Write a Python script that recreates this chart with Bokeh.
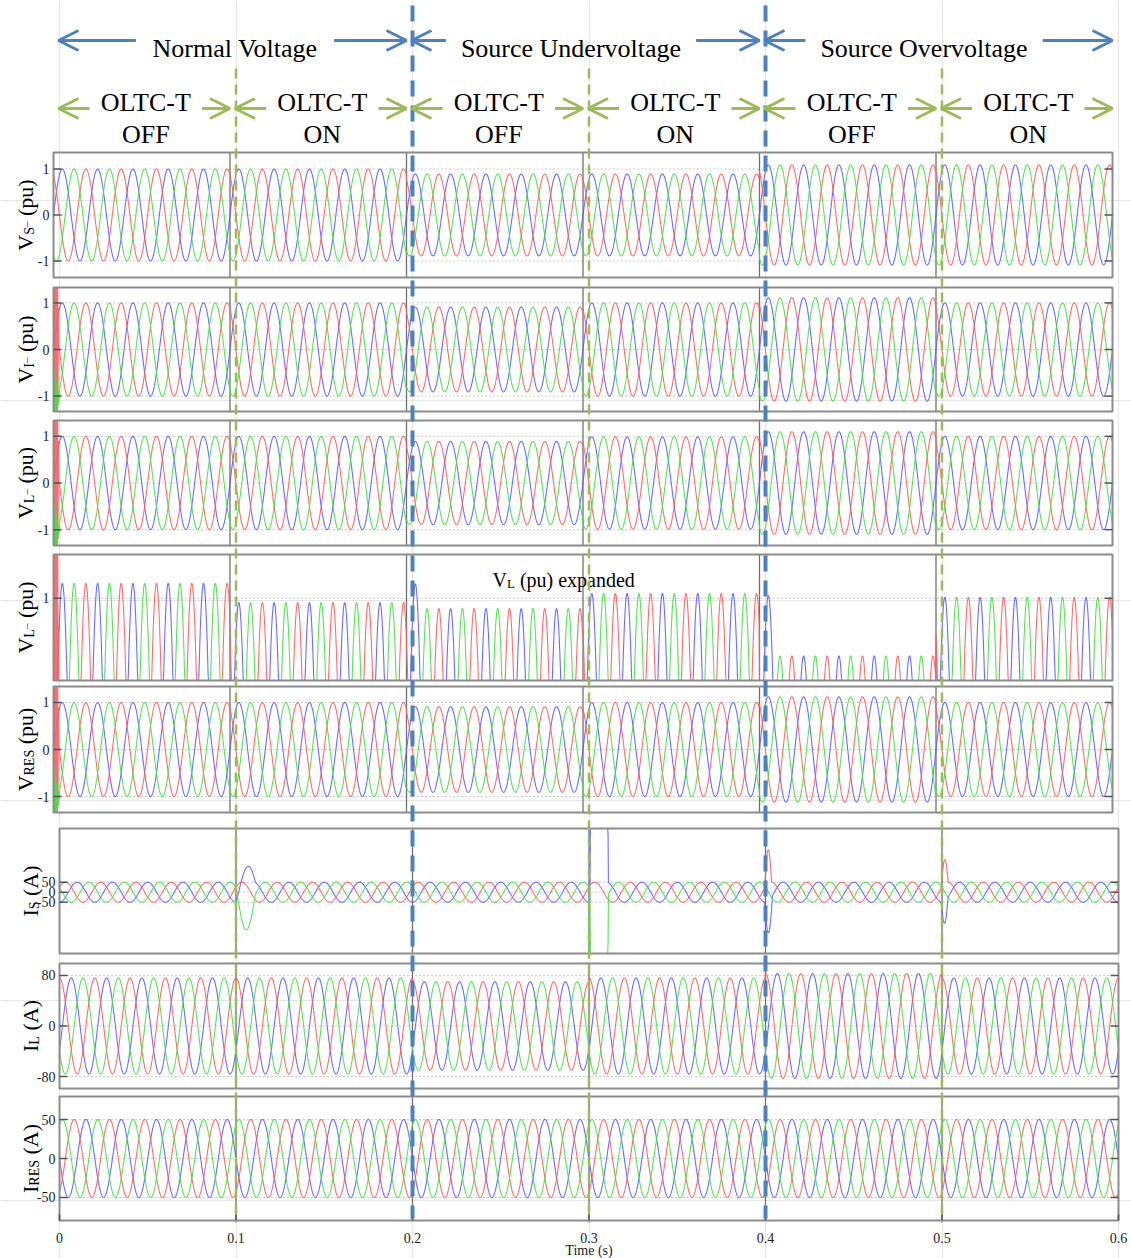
import numpy as np
from bokeh.plotting import figure
from bokeh.models import Range1d, Arrow, OpenHead
from bokeh.core.properties import value
from bokeh.embed import file_html
from bokeh.resources import INLINE

# ---------------- data ----------------
FREQ_HZ = 50.0
DT = 2e-4
segment_start = [0.0, 0.1, 0.2, 0.3, 0.4, 0.5]
segment_end = [0.1, 0.2, 0.3, 0.4, 0.5, 0.6]

# peak value of each trace in each 0.1 s interval
vs_amp = [1.0, 1.0, 0.89, 0.89, 1.09, 1.09]
vi_amp = [1.0, 1.0, 0.91, 1.0, 1.11, 1.0]
vl_amp = [1.0, 1.0, 0.89, 0.99, 1.10, 1.0]
vl_exp_amp = [1.055, 0.985, 0.963, 1.018, 0.79, 1.004]
vres_amp = [1.0, 1.0, 0.91, 1.0, 1.12, 1.0]
is_amp = [50, 50, 50, 50, 50, 50]
il_amp = [76, 76, 70, 76, 83, 76]
ires_amp = [50, 50, 50, 50, 50, 50]

# phase angle (deg) of the blue, red and green traces
volt_phase = [0, 120, -120]
is_phase = [-90, 30, 150]
il_phase = [-30, 90, -150]
ires_phase = [180, -60, 60]

# start-up burst at t = 0 (samples 0.2 ms apart)
burst_red = [1.5, -1.5, 1.5, -1.5, 1.5, -1.5, 1.5, -1.5, 1.5, -1.5, 1.5, -1.5, 1.4, -1.2, 0.9]
burst_green = [-0.3, -1.5, -0.4, -1.5, -0.5, -1.5, -0.6, -1.5, -0.7, -1.4, -0.8, -1.3,
               -0.9, -1.2, -0.9, -1.1, -0.95, -1.05]

# switching transients on the source current: onset, trace, extra peak, duration
is_kick_t = [0.1, 0.1, 0.3005, 0.3005, 0.3995, 0.3995, 0.4995, 0.4995]
is_kick_trace = [0, 2, 0, 2, 1, 0, 1, 0]
is_kick_peak = [110, -140, 4000, -4000, 170, -160, 120, -110]
is_kick_len = [0.011, 0.011, 0.0105, 0.0105, 0.004, 0.0045, 0.004, 0.004]

# overshoot of the first blue peak after a source step (expanded load voltage)
vlx_kick_t = [0.2, 0.4]
vlx_kick_peak = [0.09, 0.22]
vlx_kick_len = [0.01, 0.01]

# events and annotations
oltc_events = [0.1, 0.3, 0.5]
source_events = [0.2, 0.4]
source_regions = [(0.0, 0.2), (0.2, 0.4), (0.4, 0.6)]
source_labels = ["Normal Voltage", "Source Undervoltage", "Source Overvoltage"]
oltc_regions = [(0.0, 0.1), (0.1, 0.2), (0.2, 0.3), (0.3, 0.4), (0.4, 0.5), (0.5, 0.6)]
oltc_state = ["OFF", "ON", "OFF", "ON", "OFF", "ON"]
x_ticks = [0.0, 0.1, 0.2, 0.3, 0.4, 0.5, 0.6]
x_tick_labels = ["0", "0.1", "0.2", "0.3", "0.4", "0.5", "0.6"]

# ---------------- waveforms ----------------
t = np.arange(0.0, 0.6 + DT / 2, DT)
seg_idx = np.minimum(np.searchsorted(segment_end, t + 1e-9, side="right"), 5)


def three_phase(amps, phases):
    env = np.asarray(amps, dtype=float)[seg_idx]
    return [env * np.sin(2 * np.pi * FREQ_HZ * t + np.deg2rad(ph)) for ph in phases]


def add_pulse(y, t0, peak, dur):
    m = (t >= t0) & (t <= t0 + dur)
    y[m] += peak * np.sin(np.pi * (t[m] - t0) / dur)


def add_burst(traces):
    traces[1][:len(burst_red)] = burst_red
    traces[2][:len(burst_green)] = burst_green
    return traces


vs = three_phase(vs_amp, volt_phase)
vi = add_burst(three_phase(vi_amp, volt_phase))
vl = add_burst(three_phase(vl_amp, volt_phase))
vlx = add_burst(three_phase(vl_exp_amp, volt_phase))
for t0, pk, d in zip(vlx_kick_t, vlx_kick_peak, vlx_kick_len):
    add_pulse(vlx[0], t0, pk, d)
vres = add_burst(three_phase(vres_amp, volt_phase))
i_s = three_phase(is_amp, is_phase)
for t0, k, pk, d in zip(is_kick_t, is_kick_trace, is_kick_peak, is_kick_len):
    add_pulse(i_s[k], t0, pk, d)
i_l = three_phase(il_amp, il_phase)
i_res = three_phase(ires_amp, ires_phase)

# ---------------- layout ----------------
W, H = 1131, 1258
PX_PER_S = 1765.0
FONT = value("Liberation Serif")
WAVE_COLORS = ["#5c5cff", "#ff5c5c", "#45e045"]
BLUE = "#4f81bd"
GREEN = "#9bbb59"

panels = [
    dict(tr=vs, lim=(-1.36, 1.36), px=(152, 277), ticks=[1, 0, -1], labels=["1", "0", "-1"],
         xr="top", lab=("V", "S", "(pu)"), us=True),
    dict(tr=vi, lim=(-1.33, 1.33), px=(287, 411), ticks=[1, 0, -1], labels=["1", "0", "-1"],
         xr="top", lab=("V", "I", "(pu)"), us=True),
    dict(tr=vl, lim=(-1.34, 1.34), px=(420, 545), ticks=[1, 0, -1], labels=["1", "0", "-1"],
         xr="top", lab=("V", "L", "(pu)"), us=True),
    dict(tr=vlx, lim=(0.70, 1.16), px=(554, 680), ticks=[1], labels=["1"],
         xr="top", lab=("V", "L", "(pu)"), us=True),
    dict(tr=vres, lim=(-1.34, 1.34), px=(686, 812), ticks=[1, 0, -1], labels=["1", "0", "-1"],
         xr="top", lab=("V", "RES", "(pu)"), us=False),
    dict(tr=i_s, lim=(-306, 318), px=(828, 953), ticks=[50, 0, -50], labels=["50", "0", "-50"],
         xr="default", lab=("I", "S", "(A)"), us=False),
    dict(tr=i_l, lim=(-99, 99), px=(963, 1088), ticks=[80, 0, -80], labels=["80", "0", "-80"],
         xr="default", lab=("I", "L", "(A)"), us=False),
    dict(tr=i_res, lim=(-79.5, 79.5), px=(1096, 1220), ticks=[50, 0, -50], labels=["50", "0", "-50"],
         xr="default", lab=("I", "RES", "(A)"), us=False),
]

p = figure(width=W, height=H, output_backend="svg", toolbar_location=None,
           x_range=Range1d(-59 / PX_PER_S, (W - 59) / PX_PER_S),
           y_range=Range1d(H, 0),
           x_axis_location=None, y_axis_location=None, min_border=0)
p.outline_line_color = None
p.background_fill_color = "white"
p.border_fill_color = "white"
p.extra_x_ranges = {"top": Range1d(-53 / PX_PER_S, (W - 53) / PX_PER_S),
                    "page": Range1d(0, W)}

CW = {'V': .722, 'I': .333, 'S': .556, 'L': .611, 'R': .667, 'E': .611, ' ': .25, '(': .333,
      ')': .333, 'p': .5, 'u': .5, 'A': .722, '_': .5, 'N': .722, 'o': .5, 'r': .333, 'm': .778,
      'a': .444, 'l': .278, 't': .278, 'g': .5, 'e': .444, 'c': .444, 'U': .722, 'n': .5,
      'd': .5, 'v': .5, 'O': .722, 'T': .611, 'C': .667, '-': .333, 'F': .556, 'x': .5}


def tw(s, size):
    return sum(CW.get(c, 0.5) for c in s) * size


def txt(x, y, s, size, xr="page", **kw):
    p.text(x=[x], y=[y], text=[s], x_range_name=xr, text_font=FONT,
           text_font_size=f"{size}px", text_color="black", **kw)


def y_label(cy, bx, main, sub, rest, underscore):
    # pieces: text, font size, baseline shift, gap before the piece
    pieces = [(main, 22, 0, 0), (sub, 14, 4, 0)]
    if underscore:
        pieces.append(("_", 11, -4, 0))
    pieces.append((rest, 22, 0, tw(" ", 22)))
    y = cy + sum(tw(s, f) + g for s, f, _, g in pieces) / 2
    for s, f, dx, g in pieces:
        y -= g
        txt(bx + dx, y, s, f, angle=np.pi / 2, text_align="left", text_baseline="alphabetic")
        y -= tw(s, f)


tick_len = 8 / PX_PER_S
for i, pn in enumerate(panels):
    lo, hi = pn["lim"]
    a, b = pn["px"]
    s = (b - a) / (hi - lo)
    yr = f"y{i}"
    p.extra_y_ranges[yr] = Range1d(lo - (H - b) / s, hi + a / s)
    xr = pn["xr"]
    kw = dict(x_range_name=xr, y_range_name=yr)
    n = len(pn["ticks"])
    # dotted level lines
    p.segment(x0=[0.0] * n, x1=[0.6] * n, y0=pn["ticks"], y1=pn["ticks"],
              line_color="#9a9a9a", line_width=1, line_dash="1 3", **kw)
    # boundaries of the 0.1 s windows
    p.segment(x0=segment_start[1:], x1=segment_start[1:], y0=[lo] * 5, y1=[hi] * 5,
              line_color="#707070", line_width=1.3, **kw)
    for y, c in zip(pn["tr"], WAVE_COLORS):
        p.line(t, np.clip(y, lo, hi), line_color=c, line_width=1.1, line_alpha=0.9, **kw)
    p.quad(left=[0.0], right=[0.6], bottom=[lo], top=[hi], fill_color=None,
           line_color="#8c8c8c", line_width=2, **kw)
    p.segment(x0=[0.0] * n, x1=[tick_len] * n, y0=pn["ticks"], y1=pn["ticks"],
              line_color="#555555", line_width=1.5, **kw)
    p.segment(x0=[0.6 - tick_len] * n, x1=[0.6] * n, y0=pn["ticks"], y1=pn["ticks"],
              line_color="#555555", line_width=1.5, **kw)
    p.text(x=[-4 / PX_PER_S] * n, y=pn["ticks"], text=pn["labels"], text_font=FONT,
           text_font_size="14px", text_align="right", text_baseline="middle",
           text_color="#222222", **kw)
    bx = 25 if xr == "top" else 30
    y_label((a + b) / 2, bx, *pn["lab"], pn["us"])

# caption inside the expanded panel
x0 = 492
txt(x0, 579, "V", 20, text_baseline="alphabetic")
txt(x0 + tw("V", 20), 583, "L", 13, text_baseline="alphabetic")
txt(x0 + tw("V", 20) + tw("L", 13) + tw(" ", 20), 579, "(pu) expanded", 20,
    text_baseline="alphabetic")

# time axis
p.segment(x0=x_ticks, x1=x_ticks, y0=[1220] * 7, y1=[1214] * 7, line_color="#555555", line_width=1.5)
p.text(x=x_ticks, y=[1237] * 7, text=x_tick_labels, text_font=FONT, text_font_size="14px",
       text_align="center", text_baseline="alphabetic", text_color="#222222")
p.text(x=[0.3], y=[1250], text=["Time (s)"], text_font=FONT, text_font_size="14px",
       text_align="center", text_baseline="alphabetic", text_color="#222222")

# switching instants
p.segment(x0=oltc_events, x1=oltc_events, y0=[68] * 3, y1=[1222] * 3,
          line_color=GREEN, line_width=2.5, line_dash="10 6")
p.segment(x0=source_events, x1=source_events, y0=[5] * 2, y1=[1218] * 2,
          line_color=BLUE, line_width=4, line_dash="16 9")


def region_arrows(r0, r1, center, half, y, color):
    head = dict(size=20, line_color=color, line_width=3)
    gap = 15 / PX_PER_S
    p.add_layout(Arrow(end=OpenHead(**head), x_start=center - half - gap, x_end=r0 + 5 / PX_PER_S,
                       y_start=y, y_end=y, line_color=color, line_width=3, x_range_name="top"))
    p.add_layout(Arrow(end=OpenHead(**head), x_start=center + half + gap, x_end=r1,
                       y_start=y, y_end=y, line_color=color, line_width=3, x_range_name="top"))


source_nudge = [5, -12, -12]
for (r0, r1), lab, nd in zip(source_regions, source_labels, source_nudge):
    c = (r0 + r1) / 2 + nd / PX_PER_S
    txt(c, 48, lab, 26, xr="top", text_align="center", text_baseline="alphabetic")
    region_arrows(r0, r1, c, tw(lab, 26) / 2 / PX_PER_S, 40, BLUE)

for (r0, r1), st in zip(oltc_regions, oltc_state):
    c = (r0 + r1) / 2 + 4 / PX_PER_S
    txt(c, 102, "OLTC-T", 26, xr="top", text_align="center", text_baseline="alphabetic")
    txt(c, 134, st, 26, xr="top", text_align="center", text_baseline="alphabetic")
    region_arrows(r0, r1, c, tw("OLTC-T", 26) / 2 / PX_PER_S - 5 / PX_PER_S, 108, GREEN)

open("out.html", "w").write(file_html(p, INLINE))
